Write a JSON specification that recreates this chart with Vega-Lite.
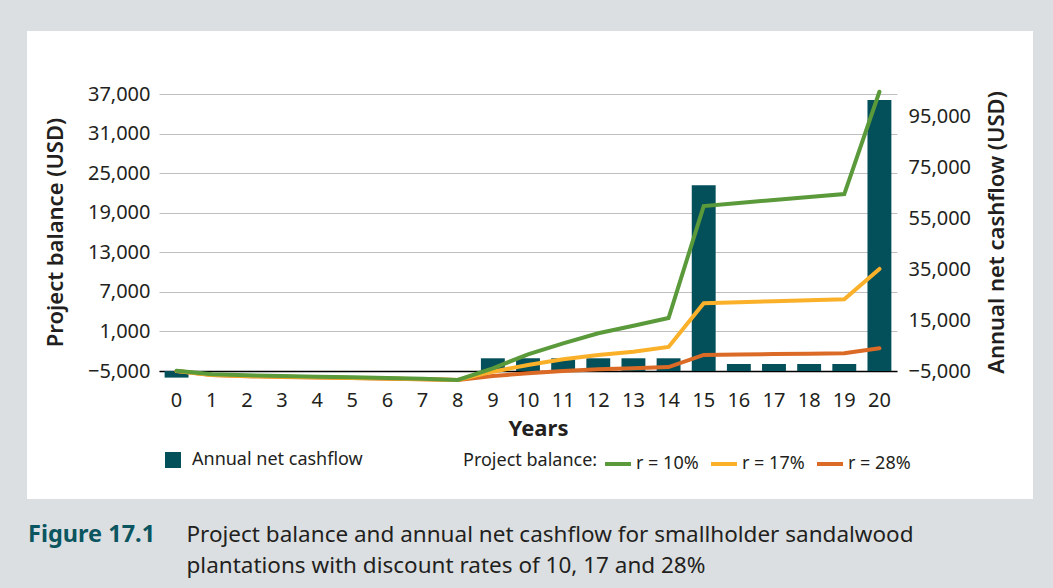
{
  "$schema": "https://vega.github.io/schema/vega-lite/v6.json",
  "width": 1006,
  "height": 468,
  "autosize": {"type": "none"},
  "padding": {"left": 27, "top": 31, "right": 20, "bottom": 89},
  "background": "#dcdfe2",
  "title": {
    "text": "Figure 17.1",
    "orient": "top",
    "anchor": "start",
    "frame": "group",
    "offset": -534,
    "baseline": "alphabetic",
    "dx": 1,
    "font": "Noto Sans",
    "fontSize": 23.5,
    "fontWeight": "bold",
    "color": "#0b5560"
  },
  "datasets": {
    "cash": [
      {"year": 0, "series": "Annual net cashflow", "cashflow": -7600},
      {"year": 9, "series": "Annual net cashflow", "cashflow": 0},
      {"year": 10, "series": "Annual net cashflow", "cashflow": 0},
      {"year": 11, "series": "Annual net cashflow", "cashflow": 0},
      {"year": 12, "series": "Annual net cashflow", "cashflow": 0},
      {"year": 13, "series": "Annual net cashflow", "cashflow": 0},
      {"year": 14, "series": "Annual net cashflow", "cashflow": 0},
      {"year": 15, "series": "Annual net cashflow", "cashflow": 68100},
      {"year": 16, "series": "Annual net cashflow", "cashflow": -2250},
      {"year": 17, "series": "Annual net cashflow", "cashflow": -2250},
      {"year": 18, "series": "Annual net cashflow", "cashflow": -2250},
      {"year": 19, "series": "Annual net cashflow", "cashflow": -2250},
      {"year": 20, "series": "Annual net cashflow", "cashflow": 101600}
    ],
    "balance": [
      {"year": 0, "rate": "r = 10%", "balance": -4950},
      {"year": 1, "rate": "r = 10%", "balance": -5500},
      {"year": 2, "rate": "r = 10%", "balance": -5650},
      {"year": 3, "rate": "r = 10%", "balance": -5760},
      {"year": 4, "rate": "r = 10%", "balance": -5860},
      {"year": 5, "rate": "r = 10%", "balance": -5960},
      {"year": 6, "rate": "r = 10%", "balance": -6060},
      {"year": 7, "rate": "r = 10%", "balance": -6170},
      {"year": 8, "rate": "r = 10%", "balance": -6360},
      {"year": 9, "rate": "r = 10%", "balance": -4590},
      {"year": 10, "rate": "r = 10%", "balance": -2470},
      {"year": 11, "rate": "r = 10%", "balance": -800},
      {"year": 12, "rate": "r = 10%", "balance": 720},
      {"year": 13, "rate": "r = 10%", "balance": 1870},
      {"year": 14, "rate": "r = 10%", "balance": 3030},
      {"year": 15, "rate": "r = 10%", "balance": 20010},
      {"year": 16, "rate": "r = 10%", "balance": 20470},
      {"year": 17, "rate": "r = 10%", "balance": 20930},
      {"year": 18, "rate": "r = 10%", "balance": 21390},
      {"year": 19, "rate": "r = 10%", "balance": 21830},
      {"year": 20, "rate": "r = 10%", "balance": 37340},
      {"year": 0, "rate": "r = 17%", "balance": -5000},
      {"year": 1, "rate": "r = 17%", "balance": -5600},
      {"year": 2, "rate": "r = 17%", "balance": -5760},
      {"year": 3, "rate": "r = 17%", "balance": -5870},
      {"year": 4, "rate": "r = 17%", "balance": -5960},
      {"year": 5, "rate": "r = 17%", "balance": -6050},
      {"year": 6, "rate": "r = 17%", "balance": -6150},
      {"year": 7, "rate": "r = 17%", "balance": -6250},
      {"year": 8, "rate": "r = 17%", "balance": -6360},
      {"year": 9, "rate": "r = 17%", "balance": -5100},
      {"year": 10, "rate": "r = 17%", "balance": -4090},
      {"year": 11, "rate": "r = 17%", "balance": -3220},
      {"year": 12, "rate": "r = 17%", "balance": -2570},
      {"year": 13, "rate": "r = 17%", "balance": -2070},
      {"year": 14, "rate": "r = 17%", "balance": -1360},
      {"year": 15, "rate": "r = 17%", "balance": 5280},
      {"year": 16, "rate": "r = 17%", "balance": 5430},
      {"year": 17, "rate": "r = 17%", "balance": 5580},
      {"year": 18, "rate": "r = 17%", "balance": 5730},
      {"year": 19, "rate": "r = 17%", "balance": 5880},
      {"year": 20, "rate": "r = 17%", "balance": 10480},
      {"year": 0, "rate": "r = 28%", "balance": -5000},
      {"year": 1, "rate": "r = 28%", "balance": -5620},
      {"year": 2, "rate": "r = 28%", "balance": -5790},
      {"year": 3, "rate": "r = 28%", "balance": -5900},
      {"year": 4, "rate": "r = 28%", "balance": -5990},
      {"year": 5, "rate": "r = 28%", "balance": -6080},
      {"year": 6, "rate": "r = 28%", "balance": -6170},
      {"year": 7, "rate": "r = 28%", "balance": -6260},
      {"year": 8, "rate": "r = 28%", "balance": -6360},
      {"year": 9, "rate": "r = 28%", "balance": -5760},
      {"year": 10, "rate": "r = 28%", "balance": -5350},
      {"year": 11, "rate": "r = 28%", "balance": -5000},
      {"year": 12, "rate": "r = 28%", "balance": -4740},
      {"year": 13, "rate": "r = 28%", "balance": -4590},
      {"year": 14, "rate": "r = 28%", "balance": -4400},
      {"year": 15, "rate": "r = 28%", "balance": -2570},
      {"year": 16, "rate": "r = 28%", "balance": -2500},
      {"year": 17, "rate": "r = 28%", "balance": -2440},
      {"year": 18, "rate": "r = 28%", "balance": -2370},
      {"year": 19, "rate": "r = 28%", "balance": -2310},
      {"year": 20, "rate": "r = 28%", "balance": -1550}
    ]
  },
  "layer": [
    {
      "data": {"name": "cash"},
      "mark": {"type": "bar"},
      "encoding": {
        "x": {
          "field": "year",
          "type": "ordinal",
          "scale": {"domain": [0,1,2,3,4,5,6,7,8,9,10,11,12,13,14,15,16,17,18,19,20], "range": [132, 870], "paddingInner": 0.32, "paddingOuter": 0.16},
          "axis": {
            "orient": "bottom",
            "offset": -128,
            "title": "Years",
            "titleFontSize": 22,
            "titleFontWeight": "bold",
            "titleX": 511,
            "titleY": 64,
            "titleAlign": "center",
            "titleBaseline": "alphabetic",
            "labelAngle": 0,
            "labelFontSize": 20,
            "labelPadding": 19,
            "ticks": false,
            "grid": false,
            "domainColor": "#000000",
            "domainWidth": 1.5
          }
        },
        "y": {
          "field": "cashflow",
          "type": "quantitative",
          "scale": {"domain": [-5000, 104000], "range": [340, 63], "nice": false, "zero": false},
          "axis": {
            "orient": "right",
            "offset": -136,
            "values": [-5000, 15000, 35000, 55000, 75000, 95000],
            "format": ",.0f",
            "ticks": false,
            "domain": false,
            "grid": false,
            "labelFontSize": 20,
            "labelPadding": 11,
            "title": "Annual net cashflow (USD)",
            "titleFontSize": 22,
            "titleFontWeight": 600,
            "titleX": 106,
            "titleY": 201,
            "titleAngle": 270,
            "titleAlign": "center",
            "titleBaseline": "alphabetic"
          }
        },
        "y2": {"datum": -5000},
        "fill": {
          "field": "series",
          "type": "nominal",
          "scale": {"domain": ["Annual net cashflow"], "range": ["#034f5a"]},
          "legend": {
            "orient": "none",
            "legendX": 137,
            "legendY": 420,
            "title": null,
            "symbolType": "square",
            "symbolSize": 256,
            "symbolStrokeWidth": 0,
            "labelFontSize": 18,
            "labelOffset": 10,
            "labelLimit": 400,
            "padding": 0
          }
        }
      }
    },
    {
      "data": {"name": "balance"},
      "encoding": {
        "x": {
          "field": "year",
          "type": "ordinal",
          "scale": {"domain": [0,1,2,3,4,5,6,7,8,9,10,11,12,13,14,15,16,17,18,19,20], "range": [132, 870], "paddingInner": 0.32, "paddingOuter": 0.16},
          "axis": {
            "orient": "bottom",
            "offset": 0,
            "labels": false,
            "ticks": false,
            "domain": false,
            "grid": false,
            "title": ["Project balance and annual net cashflow for smallholder sandalwood", "plantations with discount rates of 10, 17 and 28%"],
            "titleX": 159,
            "titleY": 42,
            "titleAlign": "left",
            "titleBaseline": "alphabetic",
            "titleAngle": 0,
            "titleFontSize": 22.5,
            "titleFontWeight": "normal",
            "titleLineHeight": 31,
            "titleLimit": 2000
          }
        },
        "y": {
          "field": "balance",
          "type": "quantitative",
          "scale": {"domain": [-5000, 37000], "range": [340, 63], "nice": false, "zero": false},
          "axis": {
            "orient": "left",
            "offset": -132,
            "values": [-5000, 1000, 7000, 13000, 19000, 25000, 31000, 37000],
            "format": ",.0f",
            "ticks": false,
            "domain": false,
            "grid": true,
            "gridColor": "#bfbfbf",
            "gridWidth": 1,
            "labelFontSize": 20,
            "labelPadding": 9,
            "title": "Project balance (USD)",
            "titleFontSize": 22,
            "titleFontWeight": 600,
            "titleX": -97,
            "titleY": 201,
            "titleAngle": 270,
            "titleAlign": "center",
            "titleBaseline": "alphabetic"
          }
        },
        "stroke": {
          "field": "rate",
          "type": "nominal",
          "scale": {"domain": ["r = 10%", "r = 17%", "r = 28%"], "range": ["#5b9a3b", "#fbb02a", "#dc6a27"]},
          "legend": {
            "orient": "none",
            "legendX": 436,
            "legendY": 418,
            "title": "Project balance:",
            "titleOrient": "left",
            "titleFontSize": 18,
            "titleFontWeight": "normal",
            "titlePadding": 5,
            "titleAnchor": "middle",
            "titleBaseline": "middle",
            "direction": "horizontal",
            "symbolType": "stroke",
            "symbolSize": 676,
            "symbolStrokeWidth": 4,
            "labelFontSize": 18,
            "labelOffset": 3,
            "columnPadding": 4,
            "padding": 0
          }
        }
      },
      "layer": [
        {"transform": [{"filter": "datum.rate === 'r = 28%'"}], "mark": {"type": "line", "strokeWidth": 4, "strokeCap": "round"}},
        {"transform": [{"filter": "datum.rate === 'r = 17%'"}], "mark": {"type": "line", "strokeWidth": 4, "strokeCap": "round"}},
        {"transform": [{"filter": "datum.rate === 'r = 10%'"}], "mark": {"type": "line", "strokeWidth": 4, "strokeCap": "round"}}
      ]
    }
  ],
  "resolve": {"scale": {"y": "independent"}, "axis": {"x": "independent", "y": "independent"}},
  "config": {
    "font": "Noto Sans",
    "axis": {"labelFont": "Noto Sans", "titleFont": "Noto Sans", "labelColor": "#231f20", "titleColor": "#231f20"},
    "legend": {"labelFont": "Noto Sans", "titleFont": "Noto Sans", "labelColor": "#231f20", "titleColor": "#231f20"},
    "view": {"stroke": null, "fill": "white"}
  }
}
